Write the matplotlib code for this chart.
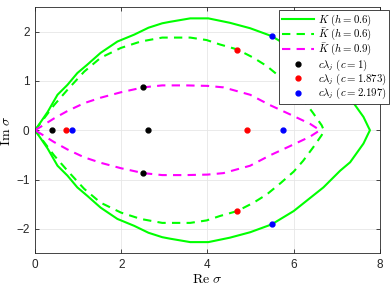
import matplotlib
matplotlib.use('Agg')
import matplotlib.pyplot as plt
import numpy as np

plt.rcParams['mathtext.fontset'] = 'cm'
plt.rcParams['font.family'] = ['Liberation Sans', 'DejaVu Sans']

# K (h=0.6), upper half, mirrored below
k_x = [0, 0.29, 0.52, 0.75, 0.98, 1.21, 1.52, 1.91, 2.30, 2.63, 2.95, 3.13, 3.6, 4.02,
       4.52, 4.99, 5.49, 6.0, 6.69, 7.08, 7.31, 7.62, 7.73, 7.77]
k_y = [0, 0.37, 0.72, 0.92, 1.16, 1.33, 1.57, 1.80, 1.94, 2.08, 2.17, 2.2, 2.27, 2.27,
       2.18, 2.07, 1.91, 1.64, 1.16, 0.82, 0.65, 0.27, 0.07, 0]

# K bar (h=0.6)
kb6_x = [0, 0.44, 0.75, 1.14, 1.52, 1.99, 2.45, 2.95, 3.6, 3.98, 4.29, 4.69, 5.07,
         5.38, 5.7, 6.0, 6.22, 6.45, 6.65, 6.7]
kb6_y = [0, 0.51, 0.82, 1.19, 1.47, 1.67, 1.80, 1.88, 1.88, 1.83, 1.74, 1.64, 1.47,
         1.30, 1.07, 0.84, 0.62, 0.35, 0.1, 0]

# K bar (h=0.9)
kb9_x = [0, 0.13, 0.44, 0.75, 1.14, 1.52, 1.99, 2.51, 2.95, 3.5, 4.0, 4.37, 4.99,
         5.45, 5.92, 6.38, 6.61]
kb9_y = [0, 0.07, 0.24, 0.39, 0.55, 0.66, 0.77, 0.87, 0.91, 0.91, 0.9, 0.87, 0.72,
         0.51, 0.32, 0.13, 0]

# c*lambda_j points
c1_re = [0.39, 2.63, 2.51, 2.51]
c1_im = [0, 0, 0.87, -0.87]
c2_re = [0.72, 4.91, 4.69, 4.69]
c2_im = [0, 0, 1.63, -1.63]
c3_re = [0.85, 5.76, 5.50, 5.50]
c3_im = [0, 0, 1.91, -1.91]


def closed(x, y):
    x = np.array(x)
    y = np.array(y)
    return np.concatenate([x, x[::-1]]), np.concatenate([y, -y[::-1]])


fig = plt.figure(figsize=(3.9, 2.93), dpi=100)
ax = fig.add_axes([0.09, 0.135, 0.884, 0.841])

green = '#00ff00'
magenta = '#ff00ff'

x, y = closed(k_x, k_y)
ax.plot(x, y, '-', color=green, lw=1.5, label=r'$K\ (h=0.6)$')
x, y = closed(kb6_x, kb6_y)
ax.plot(x, y, '--', color=green, lw=1.5, dashes=(4, 3), label=r'$\bar{K}\ (h=0.6)$')
x, y = closed(kb9_x, kb9_y)
ax.plot(x, y, '--', color=magenta, lw=1.5, dashes=(4, 3), label=r'$\bar{K}\ (h=0.9)$')

ax.plot(c1_re, c1_im, 'o', color='k', ms=3.5, ls='none', label=r'$c\lambda_j\ (c=1)$')
ax.plot(c2_re, c2_im, 'o', color='r', ms=3.5, ls='none', label=r'$c\lambda_j\ (c=1.873)$')
ax.plot(c3_re, c3_im, 'o', color='b', ms=3.5, ls='none', label=r'$c\lambda_j\ (c=2.197)$')

ax.set_xlim(0, 8)
ax.set_ylim(-2.5, 2.5)
ax.set_xticks([0, 2, 4, 6, 8])
ax.set_yticks([-2, -1, 0, 1, 2])
ax.grid(True, color='#e6e6e6', lw=0.6)
ax.set_axisbelow(True)
ax.tick_params(direction='in', length=3, width=0.6, top=True, right=True,
               labelsize=8.5, colors='#262626', pad=4)
for s in ax.spines.values():
    s.set_color('#262626')
    s.set_linewidth(0.6)

ax.set_xlabel(r'$\mathrm{Re}\ \sigma$', fontsize=10, labelpad=1)
ax.set_ylabel(r'$\mathrm{Im}\ \sigma$', fontsize=10, labelpad=2)

leg = fig.legend(loc='upper right', bbox_to_anchor=(0.998, 0.966), fontsize=7.8,
                 fancybox=False, edgecolor='#262626', framealpha=1,
                 handlelength=3.0, handletextpad=0.3, borderpad=0.25,
                 labelspacing=-0.08, borderaxespad=0)
leg.get_frame().set_linewidth(0.6)

fig.savefig('out.png', dpi=100)
